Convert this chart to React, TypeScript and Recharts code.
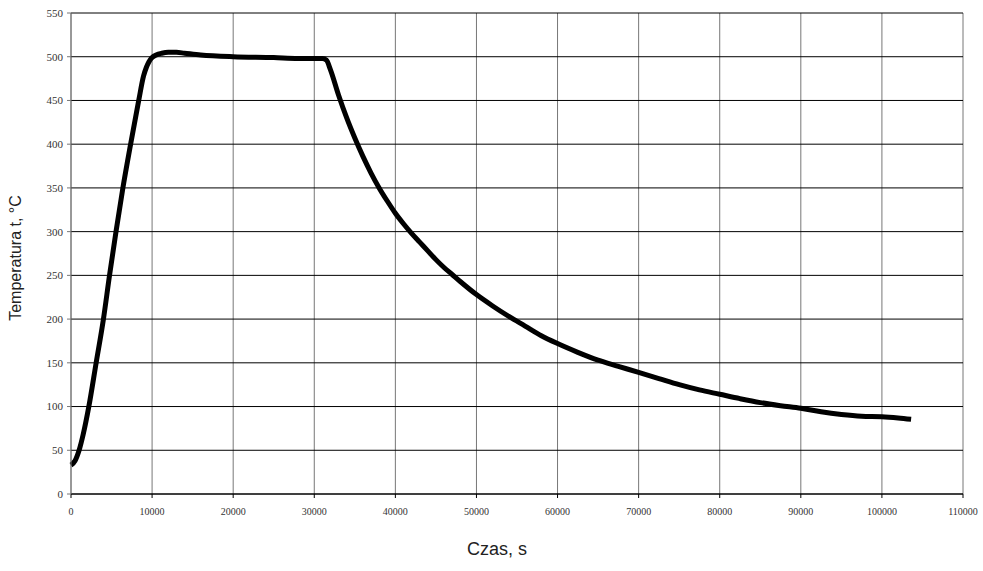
import React from 'react';
import { LineChart, Line, XAxis, YAxis, CartesianGrid } from 'recharts';

// czas [s] i temperatura [°C]
const timeS = [
  0, 500, 1000, 1500, 2200, 3100, 4000, 4750, 5550, 6400, 7350, 8350, 8950, 9300, 9600,
  10000, 10500, 11200, 12000, 13000, 14000, 16000, 20000, 25000, 28000, 30500, 31000,
  31500, 32000, 33000, 34000, 35000, 36000, 37000, 38000, 39000, 40000, 41000, 42000,
  43000, 44000, 45000, 46000, 47000, 48000, 50000, 52000, 54000, 56000, 58000, 60000,
  62500, 65000, 67500, 70000, 72500, 75000, 77500, 80000, 82500, 85000, 87500, 90000,
  92500, 95000, 97500, 100000, 102000, 103600,
];
const tempC = [
  33, 38, 50, 68, 100, 150, 200, 250, 300, 350, 400, 450, 478, 488, 494,
  499, 502, 504, 505, 505, 504, 502, 500, 499, 498, 498, 498,
  496, 485, 456, 430, 407, 386, 367, 350, 335, 321, 309, 298,
  288, 278, 268, 259, 251, 243, 228, 215, 203, 192, 181, 172,
  162, 153, 146, 139, 132, 125, 119, 114, 109, 104.5, 101, 98,
  94, 91, 89, 88.4, 87, 85.5,
];
const xTicks = [0, 10000, 20000, 30000, 40000, 50000, 60000, 70000, 80000, 90000, 100000, 110000];
const yTicks = [0, 50, 100, 150, 200, 250, 300, 350, 400, 450, 500, 550];

const data = timeS.map((t, i) => ({ t, temp: tempC[i] }));

const tickStyle = { fontFamily: '"Liberation Serif", serif', fill: '#333' };

export default function App() {
  return (
    <div style={{ position: 'absolute', left: 0, top: 0, width: 983, height: 571, background: '#fff' }}>
      <LineChart width={983} height={571} data={data} margin={{ top: 13, right: 20, left: 0, bottom: 0 }}>
        <CartesianGrid horizontal={false} vertical={true} stroke="#777" strokeWidth={1} />
        <CartesianGrid horizontal={true} vertical={false} stroke="#000" strokeWidth={1} />
        <XAxis
          dataKey="t"
          type="number"
          domain={[0, 110000]}
          ticks={xTicks}
          height={77}
          tickSize={4}
          tickMargin={10}
          tick={{ ...tickStyle, fontSize: 10 }}
          stroke="#000"
          interval={0}
        />
        <YAxis
          type="number"
          domain={[0, 550]}
          ticks={yTicks}
          width={71}
          tickSize={4}
          tickMargin={4}
          tick={{ ...tickStyle, fontSize: 11 }}
          stroke="#777"
          interval={0}
        />
        <Line
          type="monotone"
          dataKey="temp"
          stroke="#000"
          strokeWidth={5}
          strokeLinejoin="round"
          dot={false}
          isAnimationActive={false}
        />
      </LineChart>
      <div
        style={{
          position: 'absolute',
          left: 497,
          top: 549,
          transform: 'translate(-50%, -50%)',
          fontFamily: '"Liberation Sans", Arial, sans-serif',
          fontSize: 18,
          color: '#222',
          whiteSpace: 'nowrap',
        }}
      >
        Czas, s
      </div>
      <div
        style={{
          position: 'absolute',
          left: 16,
          top: 258,
          transform: 'translate(-50%, -50%) rotate(-90deg)',
          fontFamily: '"Liberation Sans", Arial, sans-serif',
          fontSize: 16,
          color: '#222',
          whiteSpace: 'nowrap',
        }}
      >
        Temperatura t, °C
      </div>
    </div>
  );
}
